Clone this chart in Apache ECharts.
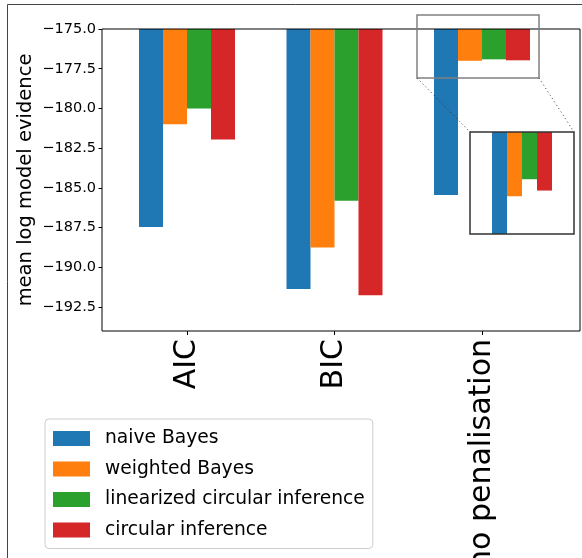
<!DOCTYPE html>
<html>
<head>
<meta charset="utf-8">
<script src="https://cdn.jsdelivr.net/npm/echarts@6/dist/echarts.min.js"></script>
<style>
html, body { margin: 0; padding: 0; background: #fff; }
#chart { width: 582px; height: 558px; }
</style>
</head>
<body>
<div id="chart"></div>
<script>
var categories = ['AIC', 'BIC', 'no penalisation'];
var naiveBayes = [-187.45, -191.35, -185.45];
var weightedBayes = [-181.0, -188.75, -177.0];
var linearizedCircular = [-180.0, -185.8, -176.91];
var circularInference = [-181.95, -191.75, -176.97];
var yTicks = [-192.5, -190, -187.5, -185, -182.5, -180, -177.5, -175];

var names = ['naive Bayes', 'weighted Bayes', 'linearized circular inference', 'circular inference'];
var values = [naiveBayes, weightedBayes, linearizedCircular, circularInference];
var colors = ['#1f77b4', '#ff7f0e', '#2ca02c', '#d62728'];
var font = 'DejaVu Sans';

function fmt(v) {
    return (v < 0 ? '\u2212' : '') + Math.abs(v).toFixed(1);
}

var series = [];
names.forEach(function (n, i) {
    series.push({
        name: n,
        type: 'bar',
        xAxisIndex: 1,
        yAxisIndex: 1,
        data: values[i],
        barWidth: 24,
        barGap: '0%',
        clip: true,
        itemStyle: { color: colors[i] }
    });
    // inset
    series.push({
        name: n,
        type: 'bar',
        xAxisIndex: 2,
        yAxisIndex: 2,
        data: [values[i][2]],
        barWidth: 15,
        barGap: '0%',
        clip: true,
        itemStyle: { color: colors[i] }
    });
});

var myChart = echarts.init(document.getElementById('chart'));
var option = {
    animation: false,
    textStyle: { fontFamily: font },
    grid: [
        { left: 102, top: 29, width: 478, height: 302, show: true, z: 10, outerBoundsMode: 'none',
          backgroundColor: 'transparent', borderColor: '#000', borderWidth: 1 },
        { left: 113.25, top: 29, width: 442.5, height: 302, outerBoundsMode: 'none' },
        { left: 470, top: 132, width: 104, height: 102, show: true, z: 10, outerBoundsMode: 'none',
          backgroundColor: 'transparent', borderColor: '#333', borderWidth: 1.5 }
    ],
    xAxis: [
        { gridIndex: 0, type: 'value', min: 0, max: 1, show: false },
        {
            gridIndex: 1, type: 'category', data: categories,
            axisLine: { show: false },
            axisTick: { show: true, alignWithLabel: true, length: 4, lineStyle: { color: '#000' } },
            axisLabel: { rotate: 90, fontSize: 30, margin: 8, color: '#000', fontFamily: font }
        },
        { gridIndex: 2, type: 'category', data: [categories[2]], show: false }
    ],
    yAxis: [
        {
            gridIndex: 0, type: 'value', min: -194, max: -175,
            name: 'mean log model evidence', nameLocation: 'middle', nameGap: 66,
            nameMoveOverlap: false,
            nameTextStyle: { fontSize: 19.5, color: '#000', fontFamily: font },
            axisLine: { show: false },
            splitLine: { show: false },
            axisTick: { show: true, length: 3.5, customValues: yTicks, lineStyle: { color: '#000' } },
            axisLabel: { customValues: yTicks, formatter: fmt, fontSize: 14.5, margin: 6,
                         color: '#000', fontFamily: font }
        },
        { gridIndex: 1, type: 'value', min: -194, max: -175, show: false },
        { gridIndex: 2, type: 'value', min: -177.2, max: -176.66, show: false }
    ],
    legend: {
        data: names,
        orient: 'vertical',
        left: 45,
        top: 419,
        padding: [10, 8, 9, 8],
        itemWidth: 37,
        itemHeight: 15,
        itemGap: 11.5,
        icon: 'rect',
        borderColor: '#ccc',
        borderWidth: 1,
        borderRadius: 4,
        textStyle: { fontSize: 18.7, color: '#000', fontFamily: font, lineHeight: 15, padding: [0, 0, 0, 10] }
    },
    graphic: [
        { type: 'rect', shape: { x: 7.5, y: 4.5, width: 620, height: 620 },
          style: { fill: 'none', stroke: '#444', lineWidth: 1 }, silent: true },
        { type: 'rect', shape: { x: 417, y: 15, width: 122, height: 63 },
          style: { fill: 'none', stroke: '#808080', lineWidth: 1.5 }, z: 20, silent: true },
        { type: 'line', shape: { x1: 417, y1: 78, x2: 470, y2: 132 },
          style: { stroke: '#333', lineWidth: 1, lineDash: [1, 3] }, z: 20, silent: true },
        { type: 'line', shape: { x1: 539, y1: 78, x2: 574, y2: 132 },
          style: { stroke: '#333', lineWidth: 1, lineDash: [1, 3] }, z: 20, silent: true }
    ],
    series: series
};
myChart.setOption(option);
</script>
</body>
</html>
